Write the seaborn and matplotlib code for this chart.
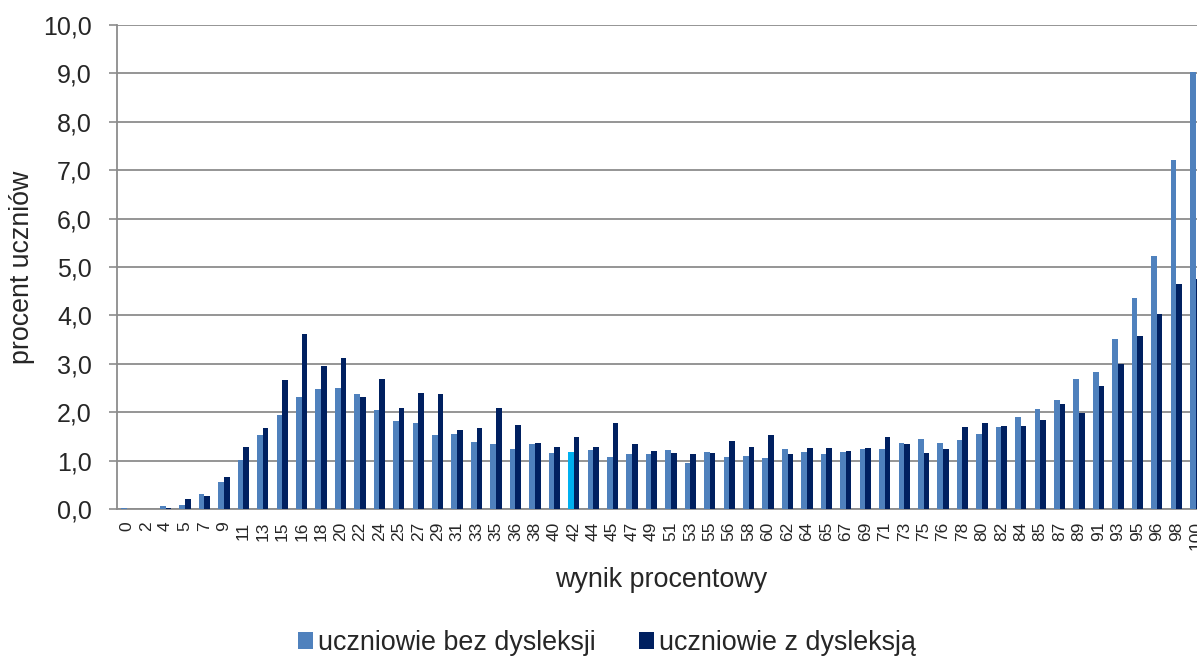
import numpy as np
import pandas as pd
import matplotlib
matplotlib.use("Agg")
import matplotlib.pyplot as plt
import seaborn as sns
from matplotlib.ticker import FuncFormatter, FixedLocator
from matplotlib.patches import Patch

categories = ["0", "2", "4", "5", "7", "9", "11", "13", "15", "16", "18", "20", "22", "24",
              "25", "27", "29", "31", "33", "35", "36", "38", "40", "42", "44", "45", "47", "49",
              "51", "53", "55", "56", "58", "60", "62", "64", "65", "67", "69", "71", "73", "75",
              "76", "78", "80", "82", "84", "85", "87", "89", "91", "93", "95", "96", "98", "100"]

bez_dysleksji = [0.02, 0.0, 0.055, 0.09, 0.32, 0.56, 1.02, 1.52, 1.94, 2.31, 2.47, 2.49, 2.37, 2.05,
                 1.81, 1.78, 1.53, 1.55, 1.38, 1.35, 1.23, 1.34, 1.16, 1.17, 1.21, 1.07, 1.13, 1.13,
                 1.21, 0.96, 1.18, 1.07, 1.09, 1.05, 1.23, 1.18, 1.13, 1.17, 1.23, 1.25, 1.36, 1.44,
                 1.36, 1.43, 1.55, 1.69, 1.91, 2.07, 2.25, 2.68, 2.84, 3.51, 4.35, 5.22, 7.21, 9.02]

z_dysleksja = [0.0, 0.0, 0.03, 0.2, 0.26, 0.67, 1.29, 1.67, 2.66, 3.62, 2.95, 3.13, 2.31, 2.69,
               2.08, 2.40, 2.37, 1.63, 1.67, 2.08, 1.73, 1.37, 1.29, 1.49, 1.29, 1.78, 1.35, 1.20,
               1.16, 1.14, 1.16, 1.40, 1.29, 1.52, 1.14, 1.26, 1.26, 1.20, 1.26, 1.49, 1.35, 1.16,
               1.23, 1.70, 1.78, 1.72, 1.72, 1.84, 2.16, 1.99, 2.55, 3.00, 3.58, 4.02, 4.64, 4.75]

series_names = ["uczniowie bez dysleksji", "uczniowie z dysleksją"]
highlight_category = "42"

light = "#4F81BD"
dark = "#002060"
highlight = "#00B0F0"
grid_gray = "#8C8C8C"

df = pd.DataFrame({
    "wynik": categories * 2,
    "procent": bez_dysleksji + z_dysleksja,
    "grupa": [series_names[0]] * len(categories) + [series_names[1]] * len(categories),
})

sns.set_style("white")
plt.rcParams["font.family"] = ["Liberation Sans", "DejaVu Sans"]

fig = plt.figure(figsize=(11.97, 6.59), dpi=100)
ax = fig.add_axes([117 / 1197, 1 - 509 / 659, 1088.4 / 1197, 484 / 659])

sns.barplot(data=df, x="wynik", y="procent", hue="grupa", order=categories,
            hue_order=series_names, palette=[light, dark], width=0.58,
            saturation=1, legend=False, ax=ax, zorder=3)

# highlighted bar
idx = categories.index(highlight_category)
ax.containers[0][idx].set_facecolor(highlight)

for bar in ax.patches:
    bar.set_edgecolor("none")

ax.set_ylim(0, 10)
ax.set_xlim(-0.5, len(categories) - 0.5)
ax.set_yticks(np.arange(0, 10.01, 1.0))
ax.yaxis.set_major_formatter(FuncFormatter(lambda v, p: f"{v:.1f}".replace(".", ",")))
ax.yaxis.grid(True, color=grid_gray, linewidth=1.3, zorder=0)
ax.set_axisbelow(True)

ax.xaxis.set_minor_locator(FixedLocator(np.arange(-0.5, len(categories), 1.0)))
ax.tick_params(axis="x", which="major", length=0, pad=9, labelsize=12.5, labelrotation=90)
ax.tick_params(axis="x", which="minor", length=5, width=1.2, color=grid_gray, direction="out")
ax.tick_params(axis="y", which="major", length=6, width=1.2, color=grid_gray,
               direction="out", pad=12, labelsize=18, left=True)

for s in ["top", "right"]:
    ax.spines[s].set_visible(False)
for s in ["left", "bottom"]:
    ax.spines[s].set_color(grid_gray)
    ax.spines[s].set_linewidth(1.3)

ax.set_xlabel("wynik procentowy", fontsize=19.4, labelpad=12)
ax.set_ylabel("procent uczniów", fontsize=19.3)
ax.yaxis.set_label_coords(-0.075, 0.5)

handles = [Patch(facecolor=light, edgecolor="none"), Patch(facecolor=dark, edgecolor="none")]
fig.legend(handles, series_names, loc="center", bbox_to_anchor=(607 / 1197, 1 - 643 / 659),
           ncol=2, frameon=False, fontsize=19.4, handlelength=0.55, handleheight=0.55,
           handletextpad=0.2, columnspacing=1.6, borderaxespad=0)

fig.savefig("out.png", dpi=100)
